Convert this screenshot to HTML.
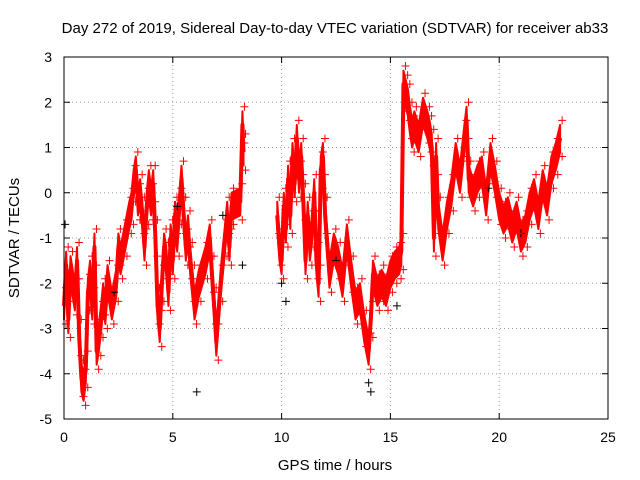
<!DOCTYPE html>
<html><head><meta charset="utf-8"><style>
body{margin:0;background:#fff}
svg{display:block;font-family:"Liberation Sans",sans-serif}
</style></head><body>
<svg id="chart" width="640" height="480" viewBox="0 0 640 480">
<text x="335" y="33" font-size="15" text-anchor="middle" fill="#000">Day 272 of 2019, Sidereal Day-to-day VTEC variation (SDTVAR) for receiver ab33</text>
<text x="335" y="470" font-size="15" text-anchor="middle">GPS time / hours</text>
<text transform="translate(19,238) rotate(-90)" font-size="15" text-anchor="middle">SDTVAR / TECUs</text>
<g id="grid"></g>
<g id="axes"></g>
<g id="marks"></g>
<rect x="64" y="57" width="544" height="362" fill="none" stroke="#000" stroke-width="1"/>
</svg>
<script>
const xTicks=[0,5,10,15,20,25];
const yTicks=[3,2,1,0,-1,-2,-3,-4,-5];
const times=[0.0,0.1,0.2,0.3,0.5,0.6,0.7,0.8,0.9,1.0,1.1,1.2,1.3,1.4,1.5,1.6,1.7,1.8,1.9,2.0,2.2,2.4,2.5,2.6,2.8,3.0,3.1,3.2,3.3,3.4,3.5,3.6,3.7,3.8,3.9,4.0,4.1,4.2,4.3,4.4,4.5,4.6,4.7,4.8,4.9,5.0,5.1,5.2,5.3,5.4,5.5,5.6,5.7,5.8,5.9,6.0,6.2,6.5,6.7,6.8,6.9,7.0,7.2,7.4,7.5,7.6,7.7,8.1,8.2,8.25,9.8,9.9,10.0,10.1,10.2,10.3,10.4,10.5,10.6,10.7,10.8,10.9,11.0,11.1,11.2,11.3,11.4,11.5,11.6,11.7,11.8,11.9,12.0,12.2,12.4,12.6,12.8,13.0,13.2,13.4,13.6,13.8,14.0,14.1,14.2,14.4,14.6,14.8,15.0,15.2,15.4,15.5,15.6,15.7,15.8,15.9,16.0,16.1,16.3,16.5,16.7,16.8,16.9,17.0,17.1,17.2,17.4,17.6,17.8,18.0,18.2,18.4,18.5,18.6,18.8,19.0,19.2,19.4,19.6,19.8,20.0,20.2,20.4,20.6,20.8,21.0,21.2,21.4,21.6,21.8,22.0,22.2,22.4,22.6,22.8];
const values=[-2.5,-1.6,-2.8,-1.7,-2.3,-1.5,-3.2,-4.1,-4.3,-3.9,-2.2,-1.8,-2.5,-1.2,-3.5,-3.2,-2.8,-2.3,-2.6,-1.9,-2.5,-2.0,-1.2,-1.5,-1.0,-0.5,-0.3,0.2,0.5,-0.2,0.0,-0.5,-1.2,-0.3,0.2,-0.2,0.2,-1.0,-2.5,-3.0,-2.0,-1.2,-1.5,-2.2,-1.0,-1.5,-0.5,-1.0,-0.3,0.3,-0.5,-1.2,-0.8,-1.5,-2.0,-2.5,-2.0,-1.5,-1.0,-1.8,-2.5,-3.3,-2.0,-1.0,-0.5,-1.2,-0.3,-0.2,1.5,0.9,-0.5,-1.2,-1.5,-0.3,-0.8,0.3,-0.5,0.8,0.2,1.2,0.3,0.8,-0.2,-1.5,-0.5,-1.2,-0.8,0.0,-1.5,-2.0,0.5,0.8,-0.5,-1.8,-1.2,-1.5,-2.0,-1.0,-1.8,-2.5,-2.3,-3.0,-3.5,-2.8,-1.8,-2.2,-2.0,-2.2,-1.8,-1.6,-1.5,-1.3,2.4,2.2,2.0,1.6,1.3,1.5,1.2,1.8,1.5,1.3,1.0,-1.0,0.8,-0.5,-1.2,-0.5,0.0,0.8,0.3,1.2,1.6,0.3,0.0,0.3,0.5,-0.2,0.8,0.3,-0.3,-0.6,-0.4,-0.8,-0.5,-1.0,-0.8,-0.3,0.0,-0.5,0.2,-0.2,0.5,0.8,1.2];
const blackTimes=[0.05,2.3,5.2,6.1,7.3,8.2,10.0,10.2,12.5,14.0,14.1,15.3,19.5,21.0];
const blackValues=[-0.7,-2.2,-0.3,-4.4,-0.5,-1.6,-2.0,-2.4,-1.5,-4.2,-4.4,-2.5,0.1,-0.9];
const BAND=0.3;
const NS='http://www.w3.org/2000/svg';
const X=t=>64+t*(544/25);
const Y=v=>57+(3-v)*(362/8);
function mk(tag,attrs,parent){const e=document.createElementNS(NS,tag);for(const k in attrs)e.setAttribute(k,attrs[k]);parent.appendChild(e);return e;}
const grid=document.getElementById('grid'),axes=document.getElementById('axes'),marks=document.getElementById('marks');
xTicks.forEach(t=>{
  if(t>0&&t<25){const g=mk('line',{x1:X(t),x2:X(t),y1:57,y2:419,stroke:'#a0a0a0','stroke-dasharray':'1,3'},grid);
  
  }
  mk('line',{x1:X(t),x2:X(t),y1:419,y2:413,stroke:'#000'},axes);
  mk('line',{x1:X(t),x2:X(t),y1:57,y2:63,stroke:'#000'},axes);
  const l=mk('text',{x:X(t),y:442,'font-size':14,'text-anchor':'middle'},axes);l.textContent=t;
  
  
});
yTicks.forEach(v=>{
  if(v<3&&v>-5){const g=mk('line',{x1:64,x2:608,y1:Y(v),y2:Y(v),stroke:'#a0a0a0','stroke-dasharray':'1,3'},grid);
  
  }
  mk('line',{x1:64,x2:70,y1:Y(v),y2:Y(v),stroke:'#000'},axes);
  mk('line',{x1:602,x2:608,y1:Y(v),y2:Y(v),stroke:'#000'},axes);
  const l=mk('text',{x:52,y:Y(v)+5,'font-size':14,'text-anchor':'end'},axes);l.textContent=v;
  
  
});
function segIdx(){const out=[];let cur=[];times.forEach((t,i)=>{if(i>0&&t-times[i-1]>1){out.push(cur);cur=[];}cur.push(i);});out.push(cur);return out;}
segIdx().forEach(s=>{
  const up=s.map(i=>X(times[i])+','+Y(values[i]+BAND));
  const dn=s.slice().reverse().map(i=>X(times[i])+','+Y(values[i]-BAND));
  const b=mk('polygon',{points:up.concat(dn).join(' '),fill:'#f00',stroke:'#f00','stroke-width':2,'stroke-linejoin':'round'},marks);
  
  
  const p=mk('polyline',{points:s.map(i=>X(times[i])+','+Y(values[i])).join(' '),fill:'none',stroke:'#f00','stroke-width':4,'stroke-linejoin':'round'},marks);
  
  
});
function plus(x,y,c){return mk('path',{d:`M${x-4},${y}h8M${x},${y-4}v8`,stroke:c,'stroke-width':1},marks);}
blackTimes.forEach((t,i)=>{const p=plus(X(t),Y(blackValues[i]),'#000');

});
times.forEach((t,i)=>{
  [BAND+0.1,-(BAND+0.1)].forEach(o=>{const p=plus(X(t)+2,Y(values[i]+o),'#f00');
  
  });
});
</script>
</body></html>
